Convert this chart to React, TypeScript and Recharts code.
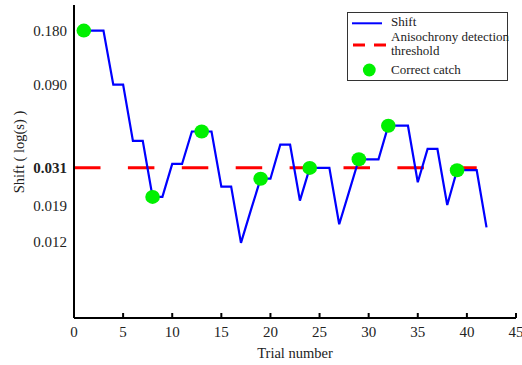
import React from "react";
import { ComposedChart, Line, Scatter, XAxis, YAxis } from "recharts";

// staircase shift per trial (trial 1..42)
const shiftValues = [
  0.18, 0.18, 0.18, 0.09, 0.09, 0.0437, 0.0437, 0.0213, 0.0213, 0.0325, 0.0325, 0.0493, 0.0493, 0.0493,
  0.0243, 0.0243, 0.0118, 0.0179, 0.0269, 0.0269, 0.0416, 0.0416, 0.0203, 0.0309, 0.0309, 0.0309, 0.015,
  0.0227, 0.0345, 0.0345, 0.0345, 0.0531, 0.0531, 0.0531, 0.0257, 0.0394, 0.0394, 0.0192, 0.03, 0.03, 0.03,
  0.0144,
];
const catchTrials = [1, 8, 13, 19, 24, 29, 32, 39];
const thresholdValue = 0.031;
const thresholdSpan = [0, 41];
const xTicks = [0, 5, 10, 15, 20, 25, 30, 35, 40, 45];
const yTicks = [0.012, 0.019, 0.031, 0.09, 0.18];

const FONT = "'Liberation Serif', 'Times New Roman', serif";
const textStyle = { fontFamily: FONT };

const shiftData = shiftValues.map((shift, i) => ({ trial: i + 1, shift }));
const catchData = catchTrials.map((trial) => ({ trial, shift: shiftValues[trial - 1] }));
const thresholdData = thresholdSpan.map((trial) => ({ trial, threshold: thresholdValue }));

function XTick(props: any) {
  const { x, y, payload } = props;
  return (
    <g>
      <line x1={x} y1={y} x2={x} y2={y - 5} stroke="#000" strokeWidth={2} />
      <text x={x} y={y + 19} textAnchor="middle" fontSize={15} style={textStyle} fill="#222">
        {payload.value}
      </text>
    </g>
  );
}

function YTick(props: any) {
  const { x, y, payload } = props;
  const isThreshold = payload.value === thresholdValue;
  return (
    <text
      x={x}
      y={y}
      dy={5}
      textAnchor="end"
      fontSize={15}
      style={textStyle}
      fontWeight={isThreshold ? "bold" : "normal"}
      fill="#222"
    >
      {payload.value.toFixed(3)}
    </text>
  );
}

function CatchDot(props: any) {
  const { cx, cy } = props;
  return <ellipse cx={cx} cy={cy} rx={7.3} ry={7} fill="#00f000" />;
}

function LegendBox() {
  return (
    <svg width={162} height={70} style={{ display: "block" }}>
      <rect x={0.5} y={0.5} width={160} height={68} fill="#fff" stroke="#333" strokeWidth={1} />
      <line x1={5} y1={11.3} x2={35} y2={11.3} stroke="#0000ff" strokeWidth={2} />
      <text x={44} y={14} fontSize={13} style={textStyle} fill="#222">Shift</text>
      <line x1={6} y1={33} x2={18} y2={33} stroke="#ff0000" strokeWidth={3} />
      <line x1={27} y1={33} x2={39} y2={33} stroke="#ff0000" strokeWidth={3} />
      <text x={44} y={28.7} fontSize={13} style={textStyle} fill="#222">Anisochrony detection</text>
      <text x={44} y={43} fontSize={13} style={textStyle} fill="#222">threshold</text>
      <circle cx={22.3} cy={58} r={6.4} fill="#00f000" />
      <text x={44} y={62} fontSize={13} style={textStyle} fill="#222">Correct catch</text>
    </svg>
  );
}

export default function App() {
  return (
    <div style={{ position: "absolute", left: 0, top: 0, width: 522, height: 365, fontFamily: FONT }}>
      <ComposedChart width={522} height={365} data={shiftData} margin={{ top: 5, right: 6, bottom: 0, left: 0 }}>
        <XAxis
          dataKey="trial"
          type="number"
          domain={[0, 45]}
          ticks={xTicks}
          interval={0}
          height={47}
          axisLine={{ stroke: "#000", strokeWidth: 2 }}
          tickLine={false}
          tickSize={0}
          tickMargin={0}
          tick={<XTick />}
          label={{
            content: () => (
              <text x={295} y={358} textAnchor="middle" fontSize={14.5} style={textStyle} fill="#222">
                Trial number
              </text>
            ),
          }}
        />
        <YAxis
          scale="log"
          type="number"
          domain={[0.0045, 0.25]}
          allowDataOverflow
          ticks={yTicks}
          interval={0}
          width={74}
          axisLine={{ stroke: "#000", strokeWidth: 2 }}
          tickLine={false}
          tickSize={0}
          tickMargin={7}
          tick={<YTick />}
          label={{
            content: () => (
              <text
                transform="translate(24,152) rotate(-90)"
                textAnchor="middle"
                fontSize={14.5}
                style={textStyle}
                fill="#222"
              >
                Shift ( log(s) )
              </text>
            ),
          }}
        />
        <Line
          data={thresholdData}
          dataKey="threshold"
          stroke="#ff0000"
          strokeWidth={3}
          strokeDasharray="26.5 27.4"
          dot={false}
          activeDot={false}
          isAnimationActive={false}
          legendType="none"
        />
        <Line
          dataKey="shift"
          stroke="#0000ff"
          strokeWidth={2.2}
          dot={false}
          activeDot={false}
          isAnimationActive={false}
          strokeLinejoin="miter"
        />
        <Scatter data={catchData} dataKey="shift" shape={<CatchDot />} isAnimationActive={false} />
      </ComposedChart>
      <div style={{ position: "absolute", left: 347, top: 12 }}>
        <LegendBox />
      </div>
    </div>
  );
}
